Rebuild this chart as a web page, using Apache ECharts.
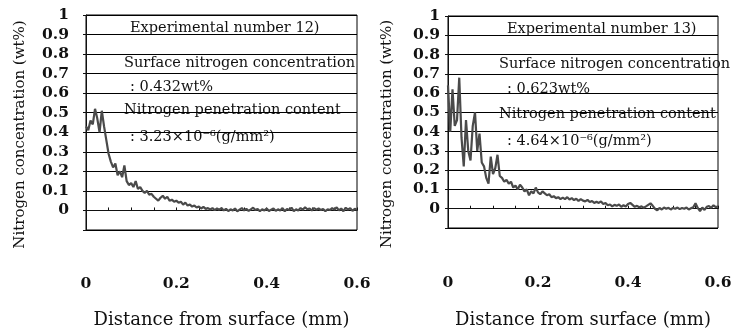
<!DOCTYPE html>
<html>
<head>
<meta charset="utf-8">
<script src="https://cdn.jsdelivr.net/npm/echarts@6/dist/echarts.min.js"></script>
<style>
html,body{margin:0;padding:0;background:#fff;}
#chart{width:735px;height:334px;}
</style>
</head>
<body>
<div id="chart"></div>
<script>
var distance = [0,0.005,0.01,0.015,0.02,0.025,0.03,0.035,0.04,0.045,0.05,0.055,0.06,0.065,0.07,0.075,0.08,0.085,0.09,0.095,
0.1,0.105,0.11,0.115,0.12,0.125,0.13,0.135,0.14,0.145,0.15,0.155,0.16,0.165,0.17,0.175,0.18,0.185,0.19,0.195,
0.2,0.205,0.21,0.215,0.22,0.225,0.23,0.235,0.24,0.245,0.25,0.255,0.26,0.265,0.27,0.275,0.28,0.285,0.29,0.295,
0.3,0.305,0.31,0.315,0.32,0.325,0.33,0.335,0.34,0.345,0.35,0.355,0.36,0.365,0.37,0.375,0.38,0.385,0.39,0.395,
0.4,0.405,0.41,0.415,0.42,0.425,0.43,0.435,0.44,0.445,0.45,0.455,0.46,0.465,0.47,0.475,0.48,0.485,0.49,0.495,
0.5,0.505,0.51,0.515,0.52,0.525,0.53,0.535,0.54,0.545,0.55,0.555,0.56,0.565,0.57,0.575,0.58,0.585,0.59,0.595,0.6];

// Experimental number 12) nitrogen concentration (wt%)
var exp12 = [0.43,0.41,0.46,0.44,0.52,0.47,0.40,0.51,0.43,0.36,0.29,0.25,0.22,0.24,0.18,0.20,0.17,0.23,0.15,0.13,
0.14,0.12,0.15,0.11,0.12,0.10,0.09,0.10,0.08,0.085,0.07,0.06,0.05,0.065,0.075,0.06,0.07,0.05,0.055,0.045,
0.05,0.04,0.045,0.03,0.04,0.025,0.03,0.02,0.025,0.015,0.02,0.01,0.018,0.008,0.012,0.005,0.012,0.002,0.01,0.004,
0.012,0.0,0.008,-0.003,0.006,0.0,0.01,-0.005,0.004,0.012,0.0,0.008,-0.002,0.006,0.014,0.002,0.008,-0.004,0.006,0.0,
0.01,-0.003,0.004,0.01,-0.002,0.006,0.0,0.012,-0.004,0.008,0.002,0.014,-0.003,0.006,0.0,0.012,0.004,0.016,0.006,0.01,
0.0,0.012,0.004,0.01,0.002,0.008,-0.004,0.006,0.002,0.012,0.004,0.016,0.0,0.01,-0.004,0.014,0.004,0.012,-0.002,0.008,0.004];

// Experimental number 13) nitrogen concentration (wt%)
var exp13 = [0.64,0.40,0.62,0.43,0.46,0.68,0.37,0.22,0.46,0.30,0.25,0.43,0.50,0.30,0.39,0.24,0.22,0.16,0.13,0.27,
0.18,0.21,0.28,0.17,0.16,0.14,0.15,0.13,0.14,0.11,0.12,0.10,0.125,0.11,0.09,0.10,0.07,0.09,0.08,0.11,
0.085,0.075,0.09,0.08,0.07,0.075,0.06,0.065,0.055,0.06,0.05,0.058,0.05,0.06,0.048,0.055,0.045,0.052,0.04,0.05,
0.042,0.038,0.046,0.035,0.04,0.03,0.036,0.03,0.038,0.025,0.03,0.018,0.022,0.012,0.02,0.015,0.022,0.01,0.018,0.012,
0.025,0.03,0.02,0.01,0.015,0.008,0.012,0.005,0.012,0.02,0.028,0.015,0.0,-0.008,0.004,-0.004,0.006,0.0,0.005,-0.004,
0.004,0.0,0.006,-0.002,0.004,0.0,0.006,-0.004,0.002,0.008,0.028,0.004,-0.012,0.006,-0.006,0.01,0.014,0.005,0.018,0.008,0.012];

var yTicks = ['0','0.1','0.2','0.3','0.4','0.5','0.6','0.7','0.8','0.9','1'];
var xTicks = ['0','0.2','0.4','0.6'];

var notes12 = ['Experimental number 12)','Surface nitrogen concentration',': 0.432wt%','Nitrogen penetration content',': 3.23\u00d710\u207b\u2076(g/mm\u00b2)'];
var notes13 = ['Experimental number 13)','Surface nitrogen concentration',': 0.623wt%','Nitrogen penetration content',': 4.64\u00d710\u207b\u2076(g/mm\u00b2)'];

var SERIF = '"DejaVu Serif", serif';

function pairs(ys){ return distance.map(function(x,i){ return [x, ys[i]]; }); }

function yLabel(v){
  var r = Math.round(v*10)/10;
  if (r < 0) return '';
  var s = String(r);
  return yTicks.indexOf(s) >= 0 ? s : '';
}
function xLabel(v){
  var r = Math.round(v*100)/100;
  var s = String(r);
  return xTicks.indexOf(s) >= 0 ? s : '';
}

function makeX(idx, labelMargin, nameGap){
  return {
    type:'value', gridIndex: idx, min:0, max:0.6, interval:0.05,
    name:'Distance from surface (mm)', nameLocation:'middle', nameGap: nameGap,
    nameTextStyle:{fontFamily:SERIF, fontSize:18, color:'#111'},
    axisLine:{show:true, onZero:true, lineStyle:{color:'#111', width:1}},
    axisTick:{show:true, inside:true, length:3, lineStyle:{color:'#111'}},
    axisLabel:{margin: labelMargin, formatter: xLabel, fontFamily:SERIF, fontWeight:'bold', fontSize:15.5, color:'#111'},
    splitLine:{show:false}
  };
}
function makeY(idx, labelMargin, nameGap){
  return {
    type:'value', gridIndex: idx, min:-0.1, max:1, interval:0.1,
    name:'Nitrogen concentration (wt%)', nameLocation:'middle', nameGap: nameGap,
    nameTextStyle:{fontFamily:SERIF, fontSize:15, color:'#111', padding:[0,0,0,-24]},
    axisLine:{show:true, lineStyle:{color:'#111', width:1}},
    axisTick:{show:true, length:3, lineStyle:{color:'#111'}},
    axisLabel:{margin: labelMargin, formatter: yLabel, fontFamily:SERIF, fontWeight:'bold', fontSize:15.5, color:'#111'},
    splitLine:{show:true, lineStyle:{color:'#000', width:1}}
  };
}

function notes(list, x1, x2, ys){
  return list.map(function(t,i){
    return {
      type:'text', left: (i===0 || i===2 || i===4) ? x2 : x1, top: ys[i]-9,
      style:{text:t, fontFamily:SERIF, fontSize:14.5, fill:'#111'}
    };
  });
}

var chart = echarts.init(document.getElementById('chart'), null, {renderer:'canvas'});
chart.setOption({
  backgroundColor:'#fff',
  animation:false,
  grid:[
    {left:86, top:15, width:271, height:233, show:true, borderColor:'#000', borderWidth:1, backgroundColor:'transparent'},
    {left:448, top:16, width:270, height:234, show:true, borderColor:'#000', borderWidth:1, backgroundColor:'transparent'}
  ],
  xAxis:[ makeX(0, 46, 81), makeX(1, 47, 83) ],
  yAxis:[ makeY(0, 17, 58), makeY(1, 8, 53) ],
  series:[
    {type:'line', xAxisIndex:0, yAxisIndex:0, data:pairs(exp12), symbol:'none', lineStyle:{color:'#4a4a4a', width:2.2}},
    {type:'line', xAxisIndex:1, yAxisIndex:1, data:pairs(exp13), symbol:'none', lineStyle:{color:'#4a4a4a', width:2.2}}
  ],
  graphic: notes(notes12, 124, 130, [30,65,89,112,139]).concat(notes(notes13, 499, 507, [31,66,91,116,143]))
});
</script>
</body>
</html>
